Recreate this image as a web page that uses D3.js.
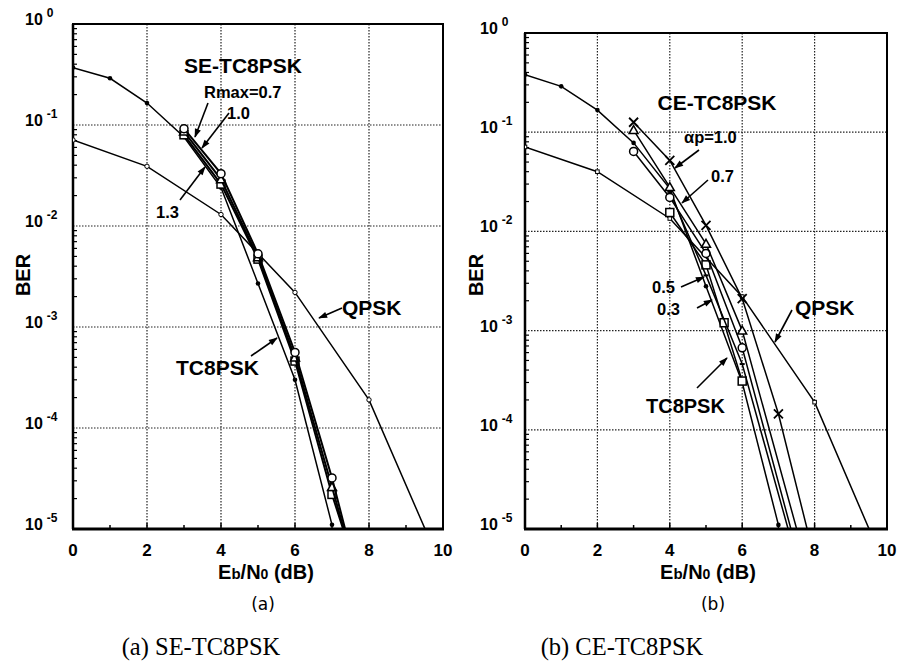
<!DOCTYPE html>
<html>
<head>
<meta charset="utf-8">
<script src="https://cdn.jsdelivr.net/npm/d3@7"></script>
<style>
  body { margin: 0; background: #fff; }
  svg { display: block; }
  text { font-family: "Liberation Sans", Arial, sans-serif; font-weight: bold; fill: #000; }
</style>
</head>
<body>
<svg id="chart" width="901" height="666"></svg>
<script>
'use strict';

// ---- data (Eb/N0 in dB, BER) ----
var xTicks = [0, 2, 4, 6, 8, 10];
var yDecades = [0, -1, -2, -3, -4, -5];

var tc8pskA = [[0, 0.37], [1, 0.29], [2, 0.165], [3, 0.076], [4, 0.024], [5, 2.7e-3], [6, 3.0e-4], [7, 1.1e-5]];
var qpskA   = [[0, 0.071], [2, 0.039], [4, 0.013], [6, 2.2e-3], [8, 1.9e-4], [10, 3.9e-6]];
var seR07   = [[3, 0.092], [4, 0.033], [5, 5.3e-3], [6, 5.6e-4], [7, 3.2e-5], [8, 1.2e-6]];
var seR10   = [[3, 0.086], [4, 0.029], [5, 4.9e-3], [6, 5.0e-4], [7, 2.6e-5], [8, 1.3e-6]];
var seR13   = [[3, 0.080], [4, 0.026], [5, 4.7e-3], [6, 4.6e-4], [7, 2.2e-5], [8, 1.6e-6]];

var tc8pskB = [[0, 0.38], [1, 0.29], [2, 0.167], [3, 0.078], [4, 0.027], [5, 2.8e-3], [6, 3.0e-4], [7, 1.1e-5]];
var qpskB   = [[0, 0.071], [2, 0.040], [4, 0.0135], [6, 2.2e-3], [8, 1.9e-4], [10, 3.8e-6]];
var ceA10   = [[3, 0.126], [4, 0.052], [5, 0.0115], [6, 2.1e-3], [7, 1.45e-4], [8, 5e-6]];
var ceA07   = [[3, 0.105], [4, 0.028], [5, 7.5e-3], [6, 1.0e-3], [8, 2.2e-6]];
var ceCirc  = [[3, 0.064], [4, 0.022], [5, 6.0e-3], [6, 6.7e-4], [8, 1.3e-6]];
var ceA05   = [[4, 0.025], [5, 3.6e-3], [6, 4.6e-4], [8, 1.1e-6]];
var ceA03   = [[4, 0.0155], [5, 4.6e-3], [5.5, 1.2e-3], [6, 3.1e-4]];

var svg = d3.select("#chart");

var defs = svg.append("defs");
defs.append("marker")
    .attr("id", "arrow")
    .attr("viewBox", "0 0 10 10")
    .attr("refX", 9).attr("refY", 5)
    .attr("markerWidth", 10).attr("markerHeight", 9)
    .attr("markerUnits", "userSpaceOnUse")
    .attr("orient", "auto")
  .append("path")
    .attr("d", "M0,1.5 L10,5 L0,8.5 Z")
    .attr("fill", "#000");

function panel(id, box) {
    var x = d3.scaleLinear().domain([0, 10]).range([box.x0, box.x1]),
        y = d3.scaleLog().domain([1e-5, 1]).range([box.y1, box.y0]),
        g = svg.append("g");

    defs.append("clipPath").attr("id", "clip" + id)
      .append("rect")
        .attr("x", box.x0).attr("y", box.y0)
        .attr("width", box.x1 - box.x0).attr("height", box.y1 - box.y0);

    // dotted grid
    g.selectAll(".gx").data(xTicks.slice(1, -1)).enter().append("line")
        .attr("x1", x).attr("x2", x).attr("y1", box.y0).attr("y2", box.y1)
        .attr("stroke", "#222").attr("stroke-width", 1.2).attr("stroke-dasharray", "1.5,1.5");
    g.selectAll(".gy").data(yDecades.slice(1, -1)).enter().append("line")
        .attr("x1", box.x0).attr("x2", box.x1)
        .attr("y1", function(d) { return y(Math.pow(10, d)); })
        .attr("y2", function(d) { return y(Math.pow(10, d)); })
        .attr("stroke", "#222").attr("stroke-width", 1.2).attr("stroke-dasharray", "1.5,1.5");

    // minor ticks
    var minor = [];
    for (var e = -5; e < 0; e++)
        for (var m = 2; m < 10; m++) minor.push(m * Math.pow(10, e));
    g.selectAll(".my").data(minor).enter().append("line")
        .attr("x1", box.x0).attr("x2", box.x0 + 4)
        .attr("y1", y).attr("y2", y)
        .attr("stroke", "#000").attr("stroke-width", 1.2);
    g.selectAll(".mx").data(d3.range(0, 11)).enter().append("line")
        .attr("x1", x).attr("x2", x)
        .attr("y1", box.y1).attr("y2", function(d) { return box.y1 - (d % 2 ? 4 : 6); })
        .attr("stroke", "#000").attr("stroke-width", 1.5);

    // frame
    g.append("rect")
        .attr("x", box.x0).attr("y", box.y0)
        .attr("width", box.x1 - box.x0).attr("height", box.y1 - box.y0)
        .attr("fill", "none").attr("stroke", "#000").attr("stroke-width", 2);
    g.append("line").attr("x1", box.x0 - 1).attr("x2", box.x1 + 1)
        .attr("y1", box.y1).attr("y2", box.y1)
        .attr("stroke", "#000").attr("stroke-width", 3);
    g.append("line").attr("x1", box.x0).attr("x2", box.x0)
        .attr("y1", box.y0).attr("y2", box.y1)
        .attr("stroke", "#000").attr("stroke-width", 2.5);

    // tick labels
    g.selectAll(".tx").data(xTicks).enter().append("text")
        .attr("x", x).attr("y", box.y1 + 27)
        .attr("text-anchor", "middle").attr("font-size", 17)
        .text(function(d) { return d; });
    var ty = g.selectAll(".ty").data(yDecades).enter().append("text")
        .attr("x", box.x0 - box.lab).attr("y", function(d) { return y(Math.pow(10, d)) + 1; })
        .attr("font-size", 16);
    ty.append("tspan").text("10");
    ty.append("tspan").attr("dx", 4).attr("dy", -8).attr("font-size", 12)
        .text(function(d) { return d === 0 ? "0" : "-" + (-d); });

    // axis titles
    var xt = g.append("text")
        .attr("x", box.xl).attr("y", box.y1 + 50)
        .attr("text-anchor", "middle").attr("font-size", 20);
    xt.append("tspan").text("E");
    xt.append("tspan").attr("font-size", 15).text("b");
    xt.append("tspan").text("/N");
    xt.append("tspan").attr("font-size", 14).text("0");
    xt.append("tspan").text(" (dB)");

    g.append("text")
        .attr("transform", "translate(" + (box.x0 - box.ber) + "," + 275 + ") rotate(-90)")
        .attr("text-anchor", "middle").attr("font-size", 20)
        .text("BER");

    g.append("text")
        .attr("x", box.xs).attr("y", box.y1 + 81)
        .attr("text-anchor", "middle").attr("font-size", 17)
        .style("font-family", "'DejaVu Sans', sans-serif").style("font-weight", "normal")
        .text(id === "a" ? "(a)" : "(b)");

    var plot = g.append("g").attr("clip-path", "url(#clip" + id + ")");
    var line = d3.line()
        .x(function(d) { return x(d[0]); })
        .y(function(d) { return y(d[1]); });

    function series(data, marker, width) {
        plot.append("path").datum(data)
            .attr("d", line)
            .attr("fill", "none").attr("stroke", "#000")
            .attr("stroke-width", width || 1.5);
        var pts = plot.selectAll(null).data(data).enter().append("g")
            .attr("transform", function(d) { return "translate(" + x(d[0]) + "," + y(d[1]) + ")"; });
        if (marker === "dot") {
            pts.append("circle").attr("r", 2.3).attr("fill", "#000");
        } else if (marker === "smallc") {
            pts.append("circle").attr("r", 2.2)
                .attr("fill", "#fff").attr("stroke", "#000").attr("stroke-width", 1);
        } else if (marker === "small") {
            pts.append("rect").attr("x", -1.8).attr("y", -1.8).attr("width", 3.6).attr("height", 3.6)
                .attr("fill", "#fff").attr("stroke", "#000").attr("stroke-width", 1);
        } else if (marker === "circle") {
            pts.append("circle").attr("r", 4).attr("fill", "#fff")
                .attr("stroke", "#000").attr("stroke-width", 1.5);
        } else if (marker === "square") {
            pts.append("rect").attr("x", -4).attr("y", -4).attr("width", 8).attr("height", 8)
                .attr("fill", "#fff").attr("stroke", "#000").attr("stroke-width", 1.5);
        } else if (marker === "tri") {
            pts.append("path").attr("d", "M0,-4.5 L4.5,3.5 L-4.5,3.5 Z")
                .attr("fill", "#fff").attr("stroke", "#000").attr("stroke-width", 1.5);
        } else if (marker === "cross") {
            pts.append("path").attr("d", "M-4.5,-4.5 L4.5,4.5 M-4.5,4.5 L4.5,-4.5")
                .attr("stroke", "#000").attr("stroke-width", 1.8);
        } else if (marker === "dash") {
            pts.append("path").attr("d", "M-2.5,0 L2.5,0")
                .attr("stroke", "#000").attr("stroke-width", 2);
        }
    }

    function label(txt, tx, ty, size, anchor) {
        g.append("text").attr("x", tx).attr("y", ty)
            .attr("font-size", size).attr("text-anchor", anchor || "start")
            .text(txt);
    }

    function arrow(x1, y1, x2, y2) {
        g.append("line")
            .attr("x1", x1).attr("y1", y1).attr("x2", x2).attr("y2", y2)
            .attr("stroke", "#000").attr("stroke-width", 1.6)
            .attr("marker-end", "url(#arrow)");
    }

    return { series: series, label: label, arrow: arrow };
}

// ---- (a) SE-TC8PSK ----
var pa = panel("a", { x0: 73, x1: 443, y0: 24, y1: 529, lab: 48, ber: 43, xl: 266, xs: 263 });
pa.series(qpskA, "smallc");
pa.series(tc8pskA, "dot");
pa.series(seR13, "square", 2);
pa.series(seR10, "tri", 2);
pa.series(seR07, "circle", 2);

pa.label("SE-TC8PSK", 243, 73, 21, "middle");
pa.label("Rmax=0.7", 204, 98, 16.5);
pa.label("1.0", 227, 119, 16.5);
pa.label("1.3", 156, 218, 16.5);
pa.label("QPSK", 342, 315, 21);
pa.label("TC8PSK", 176, 375, 21);
pa.arrow(208, 103, 195, 137);
pa.arrow(229, 113, 202, 148);
pa.arrow(180, 200, 205, 167);
pa.arrow(342, 308, 319, 318);
pa.arrow(251, 356, 277, 338);

// ---- (b) CE-TC8PSK ----
var pb = panel("b", { x0: 525, x1: 887, y0: 33, y1: 529, lab: 45, ber: 42, xl: 708, xs: 713 });
pb.series(qpskB, "small");
pb.series(tc8pskB, "dot");
pb.series(ceA03, "square");
pb.series(ceA05, "dash");
pb.series(ceCirc, "circle");
pb.series(ceA07, "tri");
pb.series(ceA10, "cross");

pb.label("CE-TC8PSK", 717, 110, 21, "middle");
pb.label("\u03b1p=1.0", 684, 143, 16.5);
pb.label("0.7", 711, 182, 16.5);
pb.label("0.5", 652, 293, 16.5);
pb.label("0.3", 657, 315, 16.5);
pb.label("QPSK", 795, 315, 21);
pb.label("TC8PSK", 646, 413, 20);
pb.arrow(699, 150, 675, 168);
pb.arrow(708, 180, 682, 203);
pb.arrow(681, 287, 704, 277);
pb.arrow(697, 308, 712, 300);
pb.arrow(792, 310, 775, 342);
pb.arrow(697, 388, 727, 358);

// ---- captions ----
svg.append("text").attr("x", 201).attr("y", 655)
    .attr("text-anchor", "middle").attr("font-size", 24.5)
    .style("font-family", "'Liberation Serif', 'Times New Roman', serif").style("font-weight", "normal")
    .text("(a) SE-TC8PSK");
svg.append("text").attr("x", 622).attr("y", 655)
    .attr("text-anchor", "middle").attr("font-size", 24.5)
    .style("font-family", "'Liberation Serif', 'Times New Roman', serif").style("font-weight", "normal")
    .text("(b) CE-TC8PSK");
</script>
</body>
</html>
